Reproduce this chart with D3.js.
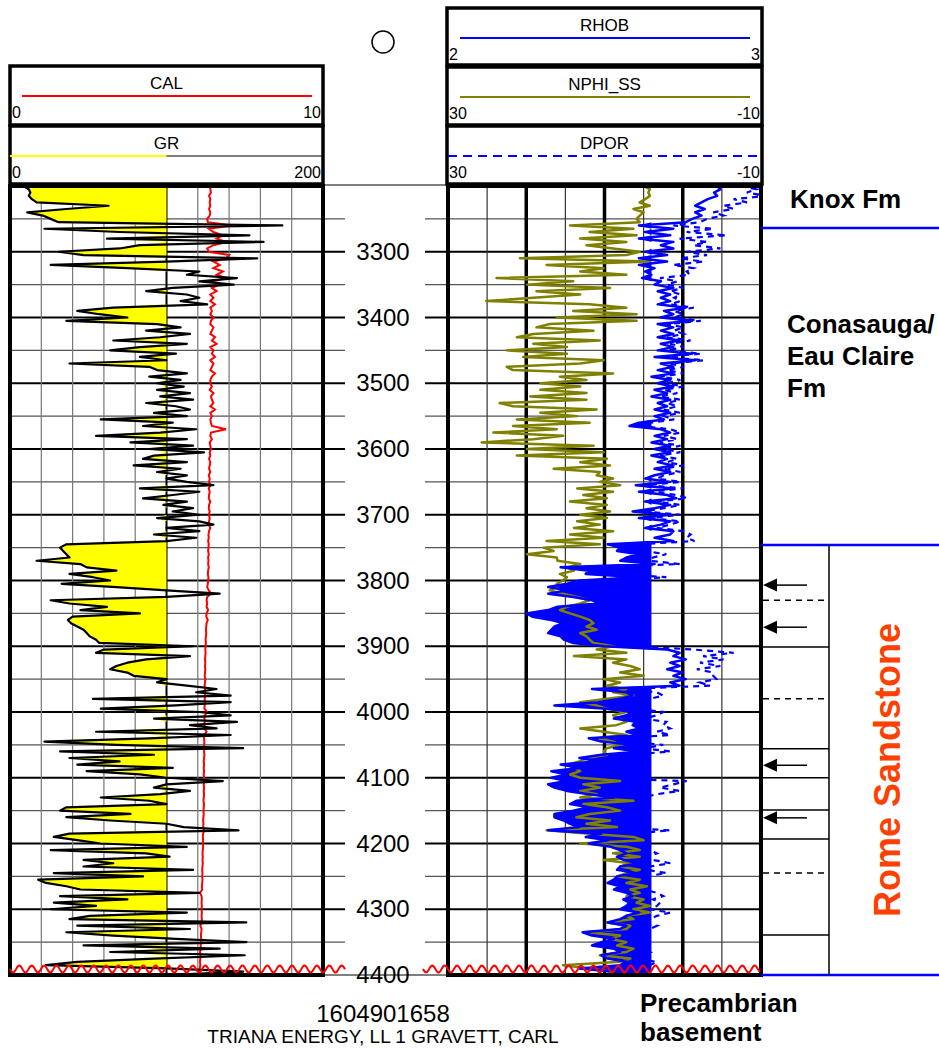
<!DOCTYPE html>
<html>
<head>
<meta charset="utf-8">
<script src="https://cdn.jsdelivr.net/npm/d3@7"></script>
<style>
  body { margin: 0; background: #fff; }
  text { font-family: "Liberation Sans", Arial, sans-serif; }
</style>
</head>
<body>
<script>
// depth sampling of the log curves (ft)
const depthTop = 3200, depthBase = 4400, depthStep = 5;

// GR (API), 3200..4400 every 5 ft
const gr = [
  8.5, 12, 13, 12, 14, 17, 63, 36, 11, 21, 26, 31, 174, 22, 70, 153, 62, 162, 83, 70,
  31, 47, 158, 100, 26, 75, 121, 113, 145, 121, 143, 104, 87, 113, 121, 109, 126, 66, 43, 57,
  75, 36, 94, 109, 87, 115, 96, 66, 113, 83, 64, 106, 83, 100, 38, 89, 94, 113, 89, 109,
  94, 111, 94, 115, 96, 117, 87, 106, 115, 92, 113, 58, 104, 85, 119, 96, 55, 113, 77, 117,
  89, 124, 92, 85, 113, 79, 109, 94, 113, 100, 113, 130, 83, 121, 104, 85, 113, 98, 117, 104,
  121, 94, 121, 130, 100, 121, 92, 119, 100, 36, 32, 34, 36, 38, 17, 45, 49, 68, 38, 53,
  64, 33, 68, 100, 134, 100, 26, 38, 62, 45, 83, 40, 37, 39, 43, 47, 49, 51, 55, 57,
  117, 60, 55, 115, 87, 75, 68, 64, 75, 79, 100, 94, 113, 132, 119, 141, 53, 141, 106, 58,
  121, 141, 92, 145, 115, 132, 55, 141, 89, 22, 68, 149, 32, 92, 38, 70, 43, 104, 49, 83,
  100, 136, 100, 92, 115, 96, 58, 89, 100, 36, 32, 77, 36, 64, 100, 111, 146, 38, 28, 43,
  58, 113, 26, 87, 102, 47, 66, 47, 117, 28, 85, 18, 23, 36, 45, 121, 32, 75, 28, 55,
  26, 113, 51, 38, 151, 43, 115, 36, 66, 106, 151, 47, 134, 64, 150, 92, 43, 23, 100, 149,
  100
];

// CAL (in)
const cal = [
  6.39, 6.40, 6.42, 6.36, 6.40, 6.38, 6.40, 6.36, 6.40, 6.38, 6.30, 6.32, 7.10, 6.35, 6.50, 6.80, 6.60, 6.90, 6.50, 6.30,
  6.35, 7.00, 6.90, 6.50, 6.70, 6.50, 6.80, 6.60, 6.90, 6.50, 6.70, 6.45, 6.60, 6.40, 6.50, 6.40, 6.55, 6.40, 6.45, 6.40,
  6.50, 6.42, 6.40, 6.50, 6.45, 6.40, 6.55, 6.45, 6.60, 6.40, 6.50, 6.45, 6.55, 6.40, 6.50, 6.45, 6.40, 6.55, 6.45, 6.40,
  6.40, 6.45, 6.38, 6.50, 6.42, 6.45, 6.50, 6.40, 6.55, 6.40, 6.45, 6.40, 6.42, 6.45, 6.90, 6.42, 6.40, 6.45, 6.38, 6.40,
  6.42, 6.38, 6.40, 6.36, 6.40, 6.38, 6.36, 6.40, 6.35, 6.38, 6.36, 6.40, 6.35, 6.38, 6.36, 6.35, 6.40, 6.36, 6.35, 6.38,
  6.35, 6.38, 6.36, 6.35, 6.40, 6.36, 6.34, 6.35, 6.33, 6.35, 6.34, 6.33, 6.35, 6.33, 6.34, 6.33, 6.35, 6.33, 6.32, 6.34,
  6.33, 6.32, 6.30, 6.35, 6.42, 6.30, 6.28, 6.30, 6.28, 6.33, 6.28, 6.27, 6.32, 6.28, 6.27, 6.26, 6.27, 6.26, 6.25, 6.26,
  6.25, 6.24, 6.25, 6.24, 6.23, 6.24, 6.23, 6.24, 6.23, 6.22, 6.24, 6.23, 6.22, 6.23, 6.22, 6.23, 6.22, 6.23, 6.22, 6.21,
  6.30, 6.22, 6.21, 6.22, 6.21, 6.22, 6.28, 6.21, 6.20, 6.21, 6.20, 6.21, 6.20, 6.21, 6.20, 6.19, 6.20, 6.19, 6.20, 6.19,
  6.20, 6.21, 6.19, 6.20, 6.19, 6.20, 6.19, 6.18, 6.20, 6.19, 6.18, 6.19, 6.18, 6.17, 6.18, 6.17, 6.20, 6.17, 6.16, 6.17,
  6.16, 6.17, 6.16, 6.15, 6.16, 6.15, 6.16, 6.15, 6.14, 6.15, 6.14, 6.15, 6.14, 6.13, 6.14, 6.07, 6.12, 6.13, 6.12, 6.13,
  6.12, 6.13, 6.12, 6.13, 6.12, 6.08, 6.12, 6.11, 6.10, 6.11, 6.10, 6.09, 6.10, 6.07, 6.09, 6.08, 6.07, 6.08, 6.06, 6.05,
  6.05
];

// NPHI_SS (%)
const nphi = [
  5.0, 4.2, 4.4, 4.2, 4.8, 5.5, 4.2, 6.3, 5.0, 5.5, 5.9, 5.5, 14.4, 6.3, 11.9, 5.9, 13.1, 7.2, 12.3, 8.9,
  5.5, 7.2, 20.8, 4.2, 17.4, 10.1, 13.1, 7.2, 23.8, 14.0, 19.9, 9.3, 18.7, 13.1, 19.1, 25.1, 11.9, 7.2, 14.0, 5.9,
  16.1, 5.9, 17.0, 18.7, 11.4, 19.1, 21.2, 10.6, 19.1, 14.8, 22.5, 14.8, 20.4, 10.1, 13.1, 22.5, 21.7, 8.9, 15.7, 12.3,
  18.2, 13.1, 18.2, 12.3, 19.5, 12.3, 23.4, 21.7, 11.0, 18.2, 13.5, 21.2, 11.9, 21.7, 16.1, 24.2, 15.3, 19.1, 25.7, 11.4,
  19.9, 10.1, 21.2, 9.7, 13.1, 9.3, 16.5, 10.6, 11.0, 8.9, 10.6, 8.0, 13.5, 8.9, 12.7, 9.7, 14.4, 9.7, 12.3, 9.3,
  13.1, 9.7, 13.5, 10.6, 13.9, 8.9, 14.4, 10.1, 17.4, 10.6, 17.8, 16.5, 19.9, 16.1, 16.0, 13.1, 14.8, 13.9, 15.7, 14.8,
  15.3, 16.1, 16.1, 17.0, 15.3, 13.5, 11.9, 13.1, 14.8, 15.7, 14.4, 13.1, 11.9, 11.4, 12.3, 11.0, 13.1, 12.3, 11.9, 11.4,
  8.9, 11.0, 7.2, 13.9, 7.2, 8.9, 6.7, 5.5, 8.0, 5.0, 10.1, 8.0, 9.7, 7.2, 8.9, 6.3, 9.7, 13.1, 11.0, 9.7,
  7.2, 8.9, 8.0, 7.2, 8.5, 13.1, 10.1, 7.2, 11.0, 8.9, 8.0, 9.7, 10.1, 9.7, 12.3, 13.1, 14.8, 13.9, 13.1, 14.4,
  13.1, 8.0, 12.7, 10.6, 13.1, 11.0, 13.1, 6.3, 12.7, 9.7, 8.0, 11.9, 13.6, 9.3, 12.3, 8.4, 17.4, 11.9, 6.3, 5.0,
  13.1, 7.2, 5.5, 8.9, 5.5, 10.1, 6.7, 8.0, 5.5, 7.2, 8.4, 5.5, 7.2, 4.6, 6.7, 5.5, 7.2, 5.0, 5.9, 4.2,
  6.3, 4.2, 7.2, 6.3, 9.7, 6.7, 7.2, 12.3, 8.0, 9.3, 7.2, 8.4, 6.3, 7.2, 10.6, 6.7, 8.0, 15.3, 11.9, 8.9,
  9.7
];

// RHOB (g/cc)
const rhob = [
  2.86, 2.87, 2.85, 2.86, 2.83, 2.81, 2.79, 2.82, 2.79, 2.81, 2.78, 2.76, 2.61, 2.72, 2.63, 2.71, 2.61, 2.72, 2.68, 2.72,
  2.63, 2.70, 2.61, 2.70, 2.61, 2.66, 2.63, 2.65, 2.62, 2.68, 2.66, 2.72, 2.67, 2.71, 2.68, 2.71, 2.67, 2.76, 2.69, 2.72,
  2.68, 2.78, 2.67, 2.72, 2.68, 2.72, 2.67, 2.74, 2.68, 2.72, 2.67, 2.78, 2.66, 2.79, 2.68, 2.72, 2.67, 2.72, 2.65, 2.71,
  2.67, 2.72, 2.66, 2.70, 2.65, 2.71, 2.67, 2.70, 2.66, 2.71, 2.66, 2.69, 2.61, 2.58, 2.68, 2.71, 2.66, 2.70, 2.65, 2.71,
  2.66, 2.71, 2.65, 2.70, 2.67, 2.72, 2.66, 2.71, 2.66, 2.63, 2.71, 2.60, 2.72, 2.61, 2.70, 2.73, 2.63, 2.71, 2.66, 2.59,
  2.71, 2.61, 2.71, 2.68, 2.63, 2.72, 2.71, 2.66, 2.72, 2.51, 2.55, 2.54, 2.61, 2.57, 2.55, 2.66, 2.36, 2.45, 2.44, 2.61,
  2.42, 2.38, 2.32, 2.38, 2.32, 2.40, 2.46, 2.48, 2.35, 2.32, 2.25, 2.27, 2.33, 2.37, 2.34, 2.33, 2.32, 2.36, 2.37, 2.40,
  2.50, 2.70, 2.74, 2.72, 2.76, 2.71, 2.74, 2.70, 2.75, 2.72, 2.76, 2.71, 2.74, 2.46, 2.57, 2.59, 2.55, 2.48, 2.34, 2.51,
  2.59, 2.57, 2.53, 2.60, 2.59, 2.61, 2.57, 2.61, 2.45, 2.49, 2.59, 2.53, 2.61, 2.49, 2.42, 2.48, 2.36, 2.42, 2.33, 2.38,
  2.33, 2.38, 2.32, 2.34, 2.38, 2.45, 2.53, 2.41, 2.39, 2.45, 2.40, 2.34, 2.34, 2.37, 2.39, 2.42, 2.32, 2.49, 2.44, 2.51,
  2.45, 2.52, 2.55, 2.57, 2.54, 2.56, 2.61, 2.55, 2.54, 2.60, 2.54, 2.53, 2.51, 2.55, 2.53, 2.57, 2.59, 2.56, 2.58, 2.57,
  2.55, 2.61, 2.57, 2.55, 2.51, 2.57, 2.55, 2.43, 2.46, 2.53, 2.49, 2.46, 2.53, 2.55, 2.49, 2.51, 2.57, 2.55, 2.42, 2.53,
  2.55
];

// DPOR (%)
const dpor = [
  -7.3, -9.4, -8.2, -10.7, -6.5, -8.2, -5.2, -6.5, -3.9, -5.2, -3.1, -2.2, 1.2, -3.9, -0.5, -5.6, 0.4, -3.1, -1.4, -4.8,
  -0.5, -3.1, 0.4, -2.6, 1.2, -1.4, -0.5, -0.9, 2.9, 0.7, 2.0, -0.1, 1.6, 0.3, 1.1, 0.3, 1.6, -1.4, 1.1, -0.1,
  1.1, -2.3, 2.0, -0.1, 1.1, -0.1, 2.0, -1.0, 1.6, -0.1, 2.0, -2.3, 2.4, -2.7, 1.6, -0.1, 2.0, -0.1, 2.9, 0.3,
  2.0, -0.1, 2.4, 0.7, 2.9, 0.3, 2.0, 0.7, 2.4, 0.3, 2.4, 1.1, 4.1, 5.4, 1.6, 0.3, 2.4, 0.7, 2.9, 0.3,
  2.4, 0.3, 2.9, 0.7, 2.0, -0.1, 2.4, 0.3, 2.4, 3.3, 0.3, 4.6, -0.1, 4.1, 0.7, -0.6, 3.3, 0.3, 2.4, 5.0,
  0.3, 4.1, 0.3, 1.6, 3.3, -0.1, -1.0, -0.5, -1.5, 5.9, 4.6, 5.0, 2.1, 3.8, 4.2, 0.4, 11.9, 8.0, 8.4, 2.1,
  9.3, 11.0, 13.6, 11.0, 13.6, 10.1, 7.6, 7.2, 12.3, 13.6, 16.1, 15.3, 13.1, 11.4, 12.7, 13.1, 13.6, 11.9, 11.4, 10.1,
  5.9, -1.4, -6.5, -2.6, -5.2, -2.2, -4.8, -1.8, -3.9, -3.9, -4.3, -2.2, -3.5, 7.6, 3.3, 2.5, 4.2, 7.2, 12.7, 5.9,
  2.5, 3.3, 5.0, 2.1, 2.5, 1.6, 3.3, 1.6, 8.0, 6.7, 2.5, 5.0, 1.6, 6.7, 9.3, 7.2, 11.9, 9.3, 13.1, 11.0,
  13.1, -0.5, 1.2, 2.9, 0.4, 3.3, 5.0, 9.7, 10.6, 8.0, 10.1, 12.7, 12.7, 11.4, 10.6, 9.3, 1.6, 6.7, 8.4, 5.9,
  8.0, 5.5, 4.2, 3.3, 4.6, 3.8, 1.6, 4.2, 4.6, 2.1, 4.6, 5.0, 5.9, 4.2, 5.0, 3.3, 2.5, 3.8, 2.9, 3.3,
  4.2, 1.6, 3.3, 4.2, 5.9, 3.3, 4.2, 8.9, 7.6, 5.0, 6.7, 7.6, 5.0, 4.2, 6.7, 5.9, 3.3, 4.2, 9.3, 5.0,
  4.2
];

const depthLabels = [3300, 3400, 3500, 3600, 3700, 3800, 3900, 4000, 4100, 4200, 4300, 4400];

// formation tops (ft)
const formationTops = [3264, 3746, 4400];

// Rome Sandstone subdivision marks (ft)
const romeSolid = [3901, 4056, 4100, 4149, 4193, 4339];
const romeDashed = [3830, 3980, 4245];
const romeArrows = [3807, 3871, 4081, 4161];

const grCutoff = 100;
const rhobCutoff = 2.65;

const depths = gr.map((_, i) => depthTop + i * depthStep);

const svg = d3.select("body").append("svg")
    .attr("width", 939)
    .attr("height", 1049);

const trackTop = 186, trackBottom = 975;
const left = {x0: 10, x1: 323};
const right = {x0: 448, x1: 761};

const y = d3.scaleLinear().domain([depthTop, depthBase]).range([trackTop, trackBottom]);
const xGR = d3.scaleLinear().domain([0, 200]).range([left.x0, left.x1]);
const xCAL = d3.scaleLinear().domain([0, 10]).range([left.x0, left.x1]);
const xRHOB = d3.scaleLinear().domain([2, 3]).range([right.x0, right.x1]);
const xNPHI = d3.scaleLinear().domain([30, -10]).range([right.x0, right.x1]);
const xDPOR = d3.scaleLinear().domain([30, -10]).range([right.x0, right.x1]);

const defs = svg.append("defs");
[["clipLeft", left], ["clipRight", right]].forEach(function (c) {
    defs.append("clipPath").attr("id", c[0])
        .append("rect")
        .attr("x", c[1].x0).attr("y", trackTop)
        .attr("width", c[1].x1 - c[1].x0).attr("height", trackBottom - trackTop);
});

// ---------- header boxes ----------
function headerBox(x0, x1, top, bottom, title, minLabel, maxLabel, lineDraw) {
    const g = svg.append("g");
    g.append("rect")
        .attr("x", x0).attr("y", top)
        .attr("width", x1 - x0).attr("height", bottom - top)
        .attr("fill", "none").attr("stroke", "#000").attr("stroke-width", 3.5);
    g.append("text")
        .attr("x", (x0 + x1) / 2).attr("y", top + 23)
        .attr("text-anchor", "middle").attr("font-size", 17)
        .text(title);
    lineDraw(g, top + 30);
    g.append("text").attr("x", x0 + 2).attr("y", top + 52)
        .attr("font-size", 16).text(minLabel);
    g.append("text").attr("x", x1 - 2).attr("y", top + 52)
        .attr("text-anchor", "end").attr("font-size", 16).text(maxLabel);
}

headerBox(10, 323, 66, 125, "CAL", "0", "10", function (g, ly) {
    g.append("line").attr("x1", 22).attr("x2", 312).attr("y1", ly).attr("y2", ly)
        .attr("stroke", "#ff0000").attr("stroke-width", 2);
});
headerBox(10, 323, 126, 184, "GR", "0", "200", function (g, ly) {
    g.append("line").attr("x1", 10).attr("x2", xGR(grCutoff)).attr("y1", ly).attr("y2", ly)
        .attr("stroke", "#ffff00").attr("stroke-width", 2);
    g.append("line").attr("x1", xGR(grCutoff)).attr("x2", 323).attr("y1", ly).attr("y2", ly)
        .attr("stroke", "#000").attr("stroke-width", 1.2);
});
headerBox(447, 762, 8, 65, "RHOB", "2", "3", function (g, ly) {
    g.append("line").attr("x1", 460).attr("x2", 750).attr("y1", ly).attr("y2", ly)
        .attr("stroke", "#0000ff").attr("stroke-width", 2);
});
headerBox(447, 762, 67, 125, "NPHI_SS", "30", "-10", function (g, ly) {
    g.append("line").attr("x1", 460).attr("x2", 750).attr("y1", ly).attr("y2", ly)
        .attr("stroke", "#808000").attr("stroke-width", 2);
});
headerBox(447, 762, 126, 184, "DPOR", "30", "-10", function (g, ly) {
    g.append("line").attr("x1", 448).attr("x2", 762).attr("y1", ly).attr("y2", ly)
        .attr("stroke", "#0000ff").attr("stroke-width", 2).attr("stroke-dasharray", "9,6");
});

svg.append("circle").attr("cx", 383).attr("cy", 42).attr("r", 11)
    .attr("fill", "none").attr("stroke", "#000").attr("stroke-width", 1.5);

// ---------- grids ----------
const gridDepths = d3.range(depthTop + 50, depthBase, 50);

function hGrid(x0, x1) {
    svg.append("g").selectAll("line").data(gridDepths).join("line")
        .attr("x1", x0).attr("x2", x1)
        .attr("y1", d => y(d)).attr("y2", d => y(d))
        .attr("stroke", d => d % 100 === 0 ? "#000" : "#555")
        .attr("stroke-width", d => d % 100 === 0 ? 2 : 1.2);
}
hGrid(left.x0, 345);
hGrid(425, right.x1);

svg.append("g").selectAll("line").data(d3.range(20, 200, 20)).join("line")
    .attr("x1", d => xGR(d)).attr("x2", d => xGR(d))
    .attr("y1", trackTop).attr("y2", trackBottom)
    .attr("stroke", d => d === grCutoff ? "#000" : "#777")
    .attr("stroke-width", d => d === grCutoff ? 2 : 1.2);

svg.append("g").selectAll("line").data(d3.range(25, -10, -5)).join("line")
    .attr("x1", d => xNPHI(d)).attr("x2", d => xNPHI(d))
    .attr("y1", trackTop).attr("y2", trackBottom)
    .attr("stroke", d => d % 10 === 0 ? "#000" : "#333")
    .attr("stroke-width", d => d % 10 === 0 ? 3.5 : 1.2);

// top / bottom line through the depth column
[trackTop - 1, trackBottom].forEach(function (ly) {
    svg.append("line").attr("x1", left.x1).attr("x2", right.x0)
        .attr("y1", ly).attr("y2", ly).attr("stroke", "#000").attr("stroke-width", 1.2);
});

// ---------- curves ----------
const rows = depths.map((d, i) => ({d: d, gr: gr[i], cal: cal[i], nphi: nphi[i], rhob: rhob[i], dpor: dpor[i]}));

const leftG = svg.append("g").attr("clip-path", "url(#clipLeft)");
const rightG = svg.append("g").attr("clip-path", "url(#clipRight)");

leftG.append("path")
    .attr("d", d3.area()
        .y(r => y(r.d))
        .x0(xGR(grCutoff))
        .x1(r => xGR(Math.min(r.gr, grCutoff)))(rows))
    .attr("fill", "#ffff00");

leftG.append("path")
    .attr("d", d3.line().x(r => xCAL(r.cal)).y(r => y(r.d))(rows))
    .attr("fill", "none").attr("stroke", "#ff0000").attr("stroke-width", 2);

leftG.append("path")
    .attr("d", d3.line().x(r => xGR(r.gr)).y(r => y(r.d))(rows))
    .attr("fill", "none").attr("stroke", "#000").attr("stroke-width", 2.2)
    .attr("stroke-linejoin", "round");

rightG.append("path")
    .attr("d", d3.line().x(r => xDPOR(r.dpor)).y(r => y(r.d))(rows))
    .attr("fill", "none").attr("stroke", "#0000ff").attr("stroke-width", 2.2)
    .attr("stroke-dasharray", "6,5");

rightG.append("path")
    .attr("d", d3.area()
        .y(r => y(r.d))
        .x0(r => xRHOB(Math.min(r.rhob, rhobCutoff)))
        .x1(xRHOB(rhobCutoff))(rows))
    .attr("fill", "#0000ff");

rightG.append("path")
    .attr("d", d3.line().x(r => xNPHI(r.nphi)).y(r => y(r.d))(rows))
    .attr("fill", "none").attr("stroke", "#808000").attr("stroke-width", 2.5)
    .attr("stroke-linejoin", "round");

rightG.append("path")
    .attr("d", d3.line().x(r => xRHOB(r.rhob)).y(r => y(r.d))(rows))
    .attr("fill", "none").attr("stroke", "#0000ff").attr("stroke-width", 2.5)
    .attr("stroke-linejoin", "round");

// track borders
[left, right].forEach(function (t) {
    svg.append("rect")
        .attr("x", t.x0).attr("y", trackTop)
        .attr("width", t.x1 - t.x0).attr("height", trackBottom - trackTop)
        .attr("fill", "none").attr("stroke", "#000").attr("stroke-width", 4);
});

// break symbol at the base of the log
function wave(x0, x1) {
    const pts = d3.range(x0, x1 + 0.5, 1).map(x => [x, y(depthBase) - 6 + 3.5 * Math.sin((x - x0) / 12.4 * 2 * Math.PI)]);
    svg.append("path").attr("d", d3.line()(pts))
        .attr("fill", "none").attr("stroke", "#ff0000").attr("stroke-width", 2);
}
wave(left.x0, 345);
wave(423, 760);

// depth labels
svg.append("g").selectAll("text").data(depthLabels).join("text")
    .attr("x", 383).attr("y", d => y(d) + 8)
    .attr("text-anchor", "middle").attr("font-size", 24)
    .text(d => d);

// ---------- formation column ----------
svg.append("g").selectAll("line").data(formationTops).join("line")
    .attr("x1", right.x1).attr("x2", 939)
    .attr("y1", d => y(d)).attr("y2", d => y(d))
    .attr("stroke", "#0000ff").attr("stroke-width", 2.5);

const romeX1 = 829;
svg.append("line").attr("x1", romeX1).attr("x2", romeX1)
    .attr("y1", y(formationTops[1])).attr("y2", y(formationTops[2]))
    .attr("stroke", "#000").attr("stroke-width", 1.5);

svg.append("g").selectAll("line").data(romeSolid).join("line")
    .attr("x1", right.x1).attr("x2", romeX1)
    .attr("y1", d => y(d)).attr("y2", d => y(d))
    .attr("stroke", "#000").attr("stroke-width", 1.5);

svg.append("g").selectAll("line").data(romeDashed).join("line")
    .attr("x1", right.x1 + 2).attr("x2", romeX1)
    .attr("y1", d => y(d)).attr("y2", d => y(d))
    .attr("stroke", "#000").attr("stroke-width", 1.5).attr("stroke-dasharray", "6,5");

const arrows = svg.append("g").selectAll("g").data(romeArrows).join("g")
    .attr("transform", d => "translate(763," + y(d) + ")");
arrows.append("line").attr("x1", 12).attr("x2", 44).attr("y1", 0).attr("y2", 0)
    .attr("stroke", "#000").attr("stroke-width", 1.5);
arrows.append("path").attr("d", "M0,0L14,-6.5L14,6.5Z").attr("fill", "#000");

function boldText(x, yy, str) {
    svg.append("text").attr("x", x).attr("y", yy)
        .attr("font-size", 26).attr("font-weight", "bold").text(str);
}
boldText(790, 208, "Knox Fm");
boldText(787, 333, "Conasauga/");
boldText(787, 365, "Eau Claire");
boldText(787, 397, "Fm");
boldText(640, 1012, "Precambrian");
boldText(640, 1041, "basement");

svg.append("text")
    .attr("transform", "translate(900,770) rotate(-90)")
    .attr("text-anchor", "middle").attr("font-size", 36).attr("font-weight", "bold")
    .attr("fill", "#ff4000")
    .text("Rome Sandstone");

// well identification
svg.append("text").attr("x", 383).attr("y", 1022)
    .attr("text-anchor", "middle").attr("font-size", 24).text("1604901658");
svg.append("text").attr("x", 383).attr("y", 1043)
    .attr("text-anchor", "middle").attr("font-size", 19).text("TRIANA ENERGY, LL 1 GRAVETT, CARL");
</script>
</body>
</html>
